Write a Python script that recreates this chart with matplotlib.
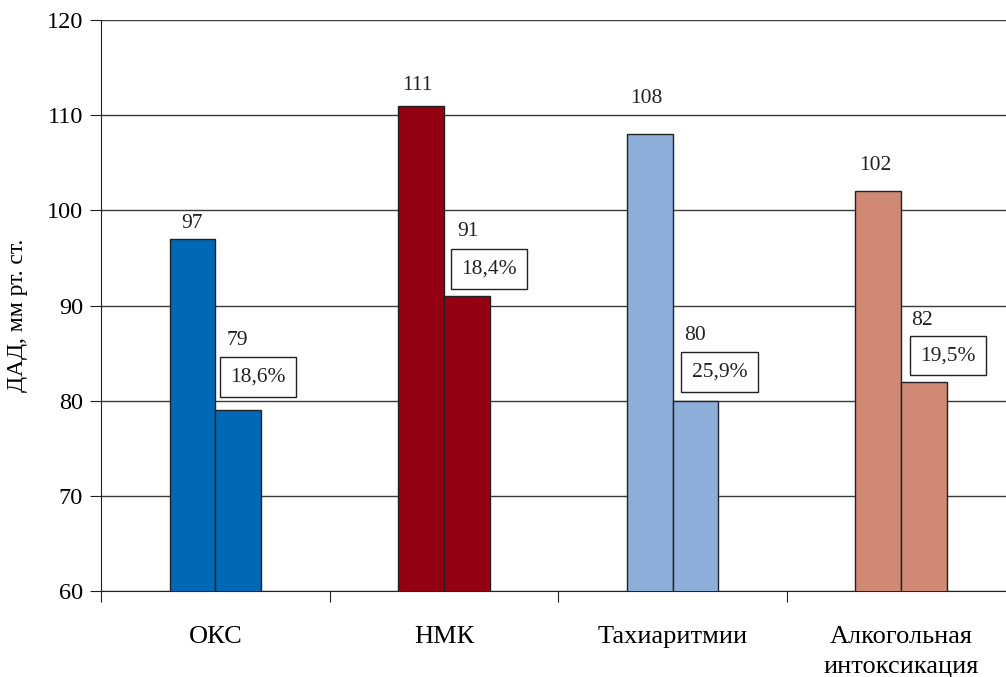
import matplotlib
matplotlib.use("Agg")
import matplotlib.pyplot as plt
import numpy as np

categories = ["ОКС", "НМК", "Тахиаритмии", "Алкогольная\nинтоксикация"]
before = [97, 111, 108, 102]
after = [79, 91, 80, 82]
reduction = ["18,6%", "18,4%", "25,9%", "19,5%"]
colors = ["#0068B4", "#930011", "#8EAEDA", "#CF8974"]

# label offsets in pixels (style only)
before_off = [(0, 15), (-4, 20), (-3, 36), (-3, 26)]
after_off = [(-1, 70), (1, 64), (0, 65), (-2, 61)]
box_off = [(20, 33), (22, 27), (24, 29), (24, 26)]

plt.rcParams['font.family'] = ['Liberation Serif', 'DejaVu Serif']

fig = plt.figure(figsize=(10.06, 6.77), dpi=100)
ax = fig.add_axes([101/1006, 86/677, 1 - 101/1006, (591-20)/677])

x = np.arange(len(categories))
w = 0.2
ax.bar(x - w/2, before, w, color=colors, edgecolor="#222222", linewidth=1, zorder=3)
ax.bar(x + w/2, after, w, color=colors, edgecolor="#222222", linewidth=1, zorder=3)

ax.set_ylim(60, 120)
ax.set_xlim(-0.5, (1006-101)/228.6 - 0.5)
ax.set_yticks(np.arange(60, 121, 10))
ax.yaxis.grid(True, color="#3a3a3a", linewidth=1)
ax.set_axisbelow(True)

ax.spines['top'].set_visible(False)
ax.spines['right'].set_visible(False)
ax.spines['left'].set_color("#222222")
ax.spines['bottom'].set_color("#222222")

ax.set_xticks(np.arange(-0.5, 3.5, 1.0))
ax.set_xticklabels([])
ax.set_xticks(x, minor=True)
ax.set_xticklabels(categories, minor=True, fontsize=19, linespacing=1.5)
ax.tick_params(axis='x', which='minor', length=0, pad=25)
ax.tick_params(axis='x', which='major', length=8, direction='out', color="#222222")
ax.tick_params(axis='y', length=8, direction='out', labelsize=17.5, pad=5, color="#222222")

ax.set_ylabel("ДАД, мм рт. ст.", fontsize=17)
ax.yaxis.set_label_coords(-0.081, 0.483)

for i in range(len(categories)):
    ax.annotate(str(before[i]), xy=(x[i] - w/2, before[i]), xytext=before_off[i],
                textcoords='offset pixels', ha='center', va='center', fontsize=15.5, color="#222222")
    ax.annotate(str(after[i]), xy=(x[i] + w/2, after[i]), xytext=after_off[i],
                textcoords='offset pixels', ha='center', va='center', fontsize=15.5, color="#222222")
    ax.annotate(reduction[i], xy=(x[i] + w/2, after[i]), xytext=box_off[i],
                textcoords='offset pixels', ha='center', va='center', fontsize=15.5, color="#222222",
                bbox=dict(boxstyle='square,pad=0.48', facecolor='white', edgecolor='#222222', linewidth=1))

fig.savefig("out.png", dpi=100)
